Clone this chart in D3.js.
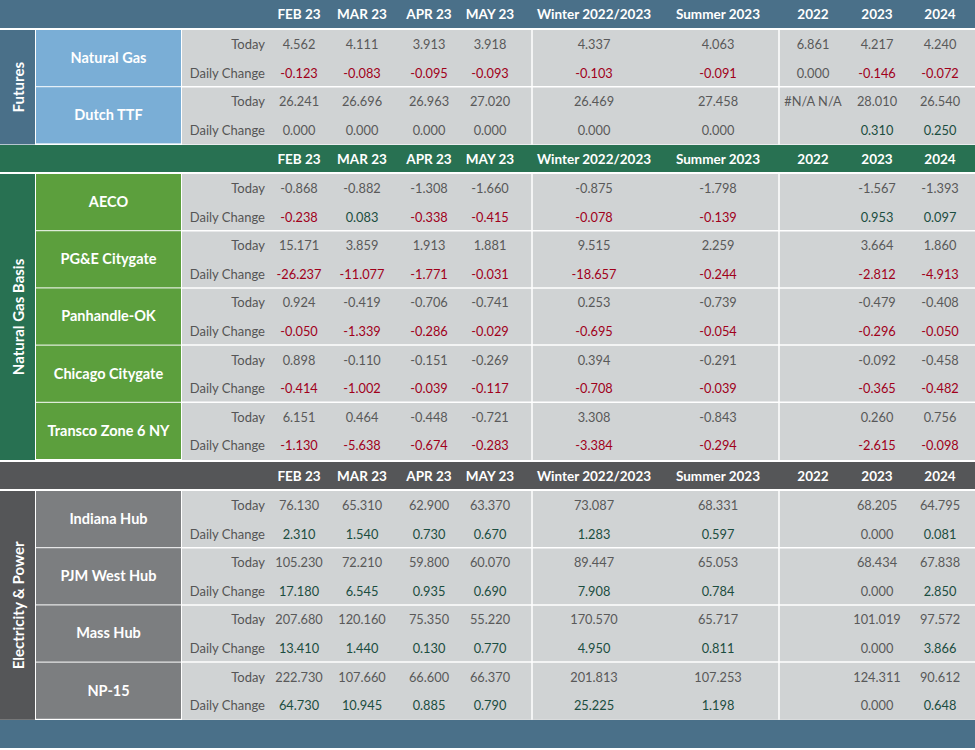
<!DOCTYPE html>
<html lang="en">
<head>
    <meta charset="UTF-8">
    <title>Energy Forward Prices</title>
    <style>
        body {
            margin: 0;
            padding: 0;
            background: #fff;
            font-family: Lato, "Open Sans", sans-serif;
        }
        .hdr { fill: #fff; font-weight: 700; font-size: 13.5px; }
        .name { fill: #fff; font-weight: 700; font-size: 14.5px; }
        .side { fill: #fff; font-weight: 700; font-size: 15px; }
        .lbl { fill: #555; font-size: 13px; }
        .val { font-size: 12.8px; }
    </style>
</head>
<body>
    <svg id="board"></svg>
    <script src="https://cdnjs.cloudflare.com/ajax/libs/d3/7.9.0/d3.min.js"></script>
    <script>
        // column headers
        const columns = ["FEB 23", "MAR 23", "APR 23", "MAY 23", "Winter 2022/2023", "Summer 2023", "2022", "2023", "2024"];

        // Futures
        const futuresNames = ["Natural Gas", "Dutch TTF"];
        const futuresToday = [
            [4.562, 4.111, 3.913, 3.918, 4.337, 4.063, 6.861, 4.217, 4.240],
            [26.241, 26.696, 26.963, 27.020, 26.469, 27.458, "#N/A N/A", 28.010, 26.540]
        ];
        const futuresChange = [
            [-0.123, -0.083, -0.095, -0.093, -0.103, -0.091, 0.000, -0.146, -0.072],
            [0.000, 0.000, 0.000, 0.000, 0.000, 0.000, null, 0.310, 0.250]
        ];

        // Natural Gas Basis
        const basisNames = ["AECO", "PG&E Citygate", "Panhandle-OK", "Chicago Citygate", "Transco Zone 6 NY"];
        const basisToday = [
            [-0.868, -0.882, -1.308, -1.660, -0.875, -1.798, null, -1.567, -1.393],
            [15.171, 3.859, 1.913, 1.881, 9.515, 2.259, null, 3.664, 1.860],
            [0.924, -0.419, -0.706, -0.741, 0.253, -0.739, null, -0.479, -0.408],
            [0.898, -0.110, -0.151, -0.269, 0.394, -0.291, null, -0.092, -0.458],
            [6.151, 0.464, -0.448, -0.721, 3.308, -0.843, null, 0.260, 0.756]
        ];
        const basisChange = [
            [-0.238, 0.083, -0.338, -0.415, -0.078, -0.139, null, 0.953, 0.097],
            [-26.237, -11.077, -1.771, -0.031, -18.657, -0.244, null, -2.812, -4.913],
            [-0.050, -1.339, -0.286, -0.029, -0.695, -0.054, null, -0.296, -0.050],
            [-0.414, -1.002, -0.039, -0.117, -0.708, -0.039, null, -0.365, -0.482],
            [-1.130, -5.638, -0.674, -0.283, -3.384, -0.294, null, -2.615, -0.098]
        ];

        // Electricity & Power
        const powerNames = ["Indiana Hub", "PJM West Hub", "Mass Hub", "NP-15"];
        const powerToday = [
            [76.130, 65.310, 62.900, 63.370, 73.087, 68.331, null, 68.205, 64.795],
            [105.230, 72.210, 59.800, 60.070, 89.447, 65.053, null, 68.434, 67.838],
            [207.680, 120.160, 75.350, 55.220, 170.570, 65.717, null, 101.019, 97.572],
            [222.730, 107.660, 66.600, 66.370, 201.813, 107.253, null, 124.311, 90.612]
        ];
        const powerChange = [
            [2.310, 1.540, 0.730, 0.670, 1.283, 0.597, null, 0.000, 0.081],
            [17.180, 6.545, 0.935, 0.690, 7.908, 0.784, null, 0.000, 2.850],
            [13.410, 1.440, 0.130, 0.770, 4.950, 0.811, null, 0.000, 3.866],
            [64.730, 10.945, 0.885, 0.790, 25.225, 1.198, null, 0.000, 0.648]
        ];

        const width = 975;
        const height = 750;
        const headerH = 27;
        const groupH = 57.2;

        const svg = d3.select('#board')
            .attr('width', width)
            .attr('height', height)
            .style('display', 'block');

        // column centres
        const x = d3.scaleOrdinal()
            .domain(columns)
            .range([299, 362, 429, 490, 594, 718, 813, 877, 940]);

        // plain hyphen for negatives, like the source sheet
        const fmt = d3.formatLocale({ decimal: '.', thousands: ',', grouping: [3], currency: ['$', ''], minus: '-' }).format('.3f');
        const valColor = v => (typeof v !== 'number' || v === 0) ? '#595959' : (v > 0 ? '#1b4d40' : '#a0001a');

        const sections = [
            { title: 'Futures', names: futuresNames, today: futuresToday, change: futuresChange,
              head: '#4a7089', side: '#4a7089', cell: '#7aaed6', y: 0 },
            { title: 'Natural Gas Basis', names: basisNames, today: basisToday, change: basisChange,
              head: '#287152', side: '#287152', cell: '#5c9f3d', y: 145 },
            { title: 'Electricity & Power', names: powerNames, today: powerToday, change: powerChange,
              head: '#555658', side: '#555658', cell: '#7c7e80', y: 462 }
        ];

        sections.forEach((s, si) => {
            const g = svg.append('g');
            const top = s.y;
            const hH = si === 0 ? 28 : headerH;

            // header band
            g.append('rect')
                .attr('x', 0).attr('y', top)
                .attr('width', width).attr('height', hH)
                .attr('fill', s.head);

            g.selectAll('.hdr')
                .data(columns)
                .enter().append('text')
                .attr('class', 'hdr')
                .attr('x', d => x(d))
                .attr('y', top + hH / 2)
                .attr('text-anchor', 'middle')
                .attr('dominant-baseline', 'central')
                .text(d => d);

            const bodyTop = top + hH + 2;
            const bodyH = s.names.length * groupH;

            // side label column
            g.append('rect')
                .attr('x', 0).attr('y', bodyTop)
                .attr('width', 35).attr('height', bodyH)
                .attr('fill', s.side);

            g.append('text')
                .attr('class', 'side')
                .attr('transform', `translate(18,${bodyTop + bodyH / 2}) rotate(-90)`)
                .attr('text-anchor', 'middle')
                .attr('dominant-baseline', 'central')
                .text(s.title);

            // data background
            g.append('rect')
                .attr('x', 182).attr('y', bodyTop)
                .attr('width', width - 182).attr('height', bodyH)
                .attr('fill', '#d0d3d4');

            const grp = g.selectAll('.grp')
                .data(s.names)
                .enter().append('g')
                .attr('class', 'grp')
                .attr('transform', (d, i) => `translate(0,${bodyTop + i * groupH})`);

            grp.append('rect')
                .attr('x', 36).attr('y', 0)
                .attr('width', 145).attr('height', groupH - 1)
                .attr('fill', s.cell);

            grp.append('text')
                .attr('class', 'name')
                .attr('x', 108.5)
                .attr('y', groupH / 2 - 1)
                .attr('text-anchor', 'middle')
                .attr('dominant-baseline', 'central')
                .text(d => d);

            // white line between groups in data area
            grp.filter((d, i) => i > 0).append('line')
                .attr('x1', 182).attr('x2', width)
                .attr('y1', -0.5).attr('y2', -0.5)
                .attr('stroke', '#fff').attr('stroke-width', 1.5);

            ['Today', 'Daily Change'].forEach((lab, r) => {
                const yy = r === 0 ? 14 : 42.5;
                grp.append('text')
                    .attr('class', 'lbl')
                    .attr('x', 265)
                    .attr('y', yy)
                    .attr('text-anchor', 'end')
                    .attr('dominant-baseline', 'central')
                    .text(lab);

                const rows = r === 0 ? s.today : s.change;
                grp.selectAll(`.v${r}`)
                    .data((d, i) => rows[i].map((v, j) => ({ v, col: columns[j] })))
                    .enter().append('text')
                    .attr('class', `val v${r}`)
                    .attr('x', d => x(d.col))
                    .attr('y', yy)
                    .attr('text-anchor', 'middle')
                    .attr('dominant-baseline', 'central')
                    .attr('fill', d => r === 0 ? '#595959' : valColor(d.v))
                    .text(d => d.v === null ? '' : (typeof d.v === 'number' ? fmt(d.v) : d.v));
            });

            // vertical separators
            [532, 779].forEach(sx => {
                g.append('line')
                    .attr('x1', sx).attr('x2', sx)
                    .attr('y1', bodyTop).attr('y2', bodyTop + bodyH)
                    .attr('stroke', '#fff').attr('stroke-width', 1.5);
            });
        });

        // footer band
        svg.append('rect')
            .attr('x', 0).attr('y', 720)
            .attr('width', width).attr('height', 28)
            .attr('fill', '#4a7089');
    </script>
</body>
</html>
